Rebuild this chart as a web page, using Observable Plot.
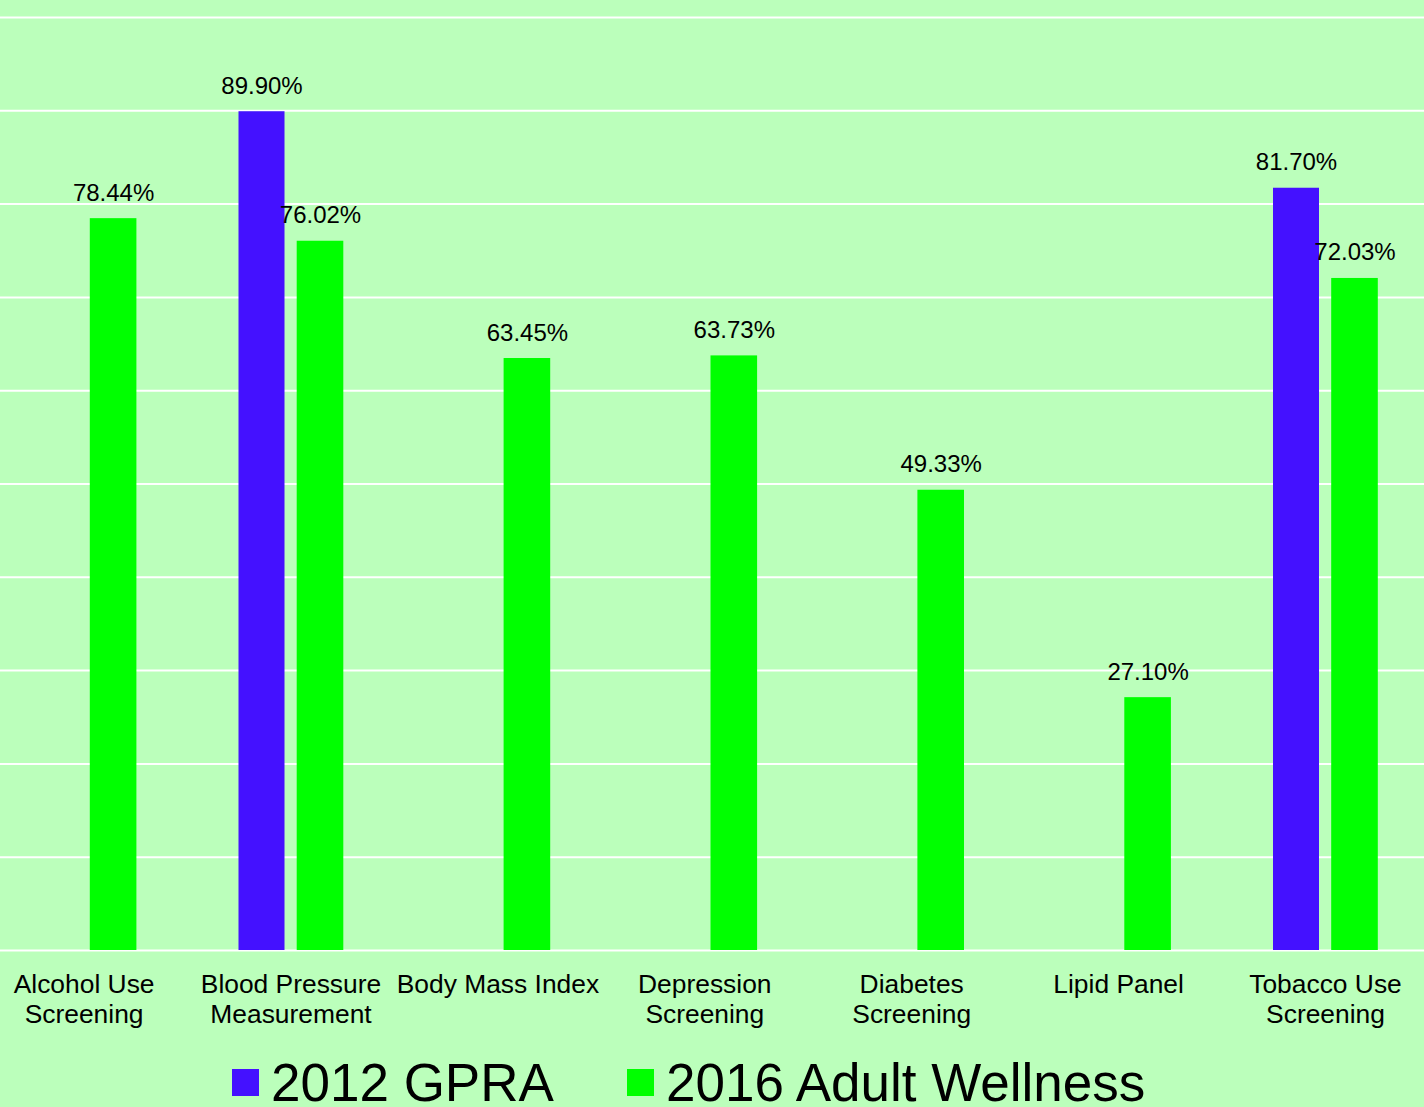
<!DOCTYPE html>
<html>
<head>
<meta charset="utf-8">
<script src="https://cdn.jsdelivr.net/npm/d3@7"></script>
<script src="https://cdn.jsdelivr.net/npm/@observablehq/plot@0.6"></script>
<style>
  html, body { margin: 0; padding: 0; background: #BBFFBB; }
  body { width: 1424px; height: 1107px; overflow: hidden; font-family: "Liberation Sans", Arial, sans-serif; }
  #chart svg { display: block; background: #BBFFBB; }
  #legend { position: relative; height: 57px; }
  .item { position: absolute; top: 4px; display: flex; align-items: center; font-size: 53px; line-height: 57px; color: #000; white-space: nowrap; }
  .sw { width: 27px; height: 27px; margin-right: 12px; }
</style>
</head>
<body>
<div id="chart"></div>
<div id="legend"></div>
<script>
const categories = ["Alcohol Use\nScreening", "Blood Pressure\nMeasurement", "Body Mass Index", "Depression\nScreening", "Diabetes\nScreening", "Lipid Panel", "Tobacco Use\nScreening"];
const gpra2012 = [null, 89.90, null, null, null, null, 81.70];
const wellness2016 = [78.44, 76.02, 63.45, 63.73, 49.33, 27.10, 72.03];
const seriesNames = ["2012 GPRA", "2016 Adult Wellness"];
const seriesColors = ["#4411FF", "#00FF00"];
const gridTicks = [0, 10, 20, 30, 40, 50, 60, 70, 80, 90, 100];

const blue = categories.map((c, i) => ({category: c, value: gpra2012[i]})).filter(d => d.value != null);
const green = categories.map((c, i) => ({category: c, value: wellness2016[i]})).filter(d => d.value != null);

const bw = (1428.45 + 19.85) / 7;
const font = "Liberation Sans, Arial, sans-serif";

const chart = Plot.plot({
  width: 1424,
  height: 1050,
  marginTop: 17,
  marginBottom: 100,
  marginLeft: 0,
  marginRight: 0,
  style: {background: "#BBFFBB", fontFamily: font},
  x: {type: "band", domain: categories, range: [-19.85, 1428.45], padding: 0, round: false, label: null},
  y: {domain: [0, 100], label: null, axis: null},
  marks: [
    Plot.ruleY(gridTicks, {stroke: "#FFFFFF", strokeWidth: 2}),
    Plot.barY(blue, {x: "category", y: "value", fill: seriesColors[0], insetLeft: 51.45, insetRight: bw - 51.45 - 46}),
    Plot.barY(green, {x: "category", y: "value", fill: seriesColors[1], insetLeft: 109.65, insetRight: bw - 109.65 - 46.6}),
    Plot.text(blue, {x: "category", y: "value", text: d => d.value.toFixed(2) + "%", dx: -29, dy: -18, lineAnchor: "bottom", fontSize: 24, fill: "#000"}),
    Plot.text(green, {x: "category", y: "value", text: d => d.value.toFixed(2) + "%", dx: 29.5, dy: -18, lineAnchor: "bottom", fontSize: 24, fill: "#000"}),
    Plot.axisX({tickSize: 0, tickPadding: 21.5, fontSize: 26.4, lineHeight: 1.14, label: null, fill: "#000"})
  ]
});
document.getElementById("chart").appendChild(chart);

const legend = document.getElementById("legend");
const lefts = [232, 627];
seriesNames.forEach((name, i) => {
  const item = document.createElement("div");
  item.className = "item";
  item.style.left = lefts[i] + "px";
  const sw = document.createElement("div");
  sw.className = "sw";
  sw.style.background = seriesColors[i];
  const t = document.createElement("span");
  t.textContent = name;
  item.appendChild(sw);
  item.appendChild(t);
  legend.appendChild(item);
});
</script>
</body>
</html>
